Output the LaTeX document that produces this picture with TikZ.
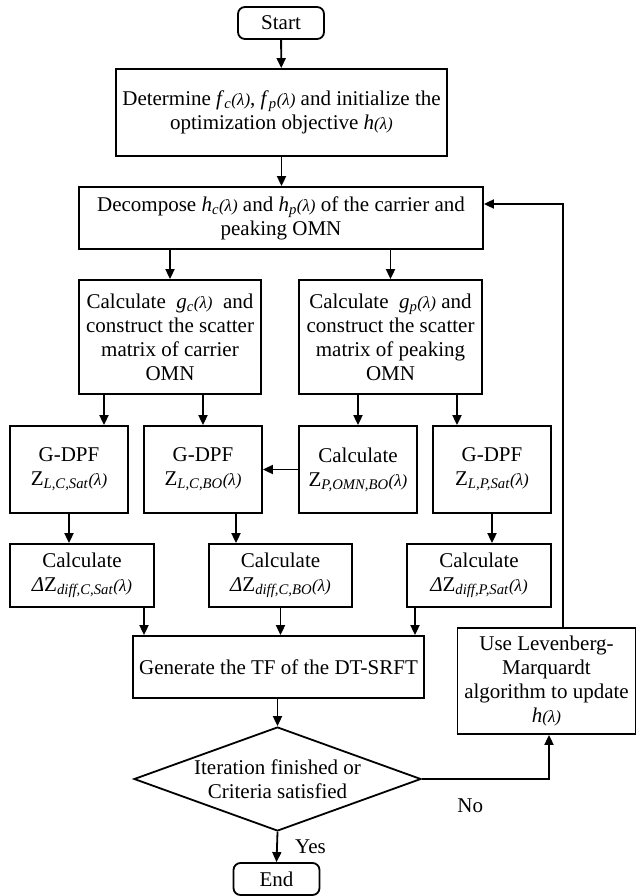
\documentclass[tikz,border=0pt]{standalone}
\usepackage{fontspec}
\setmainfont{Liberation Serif}
\usetikzlibrary{shapes.geometric}
\usetikzlibrary{arrows.meta}
\newcommand{\lam}{{\fontsize{17}{17}\selectfont\itshape(λ)}}
\newcommand{\isub}[2]{\textit{#1}\textsubscript{\textit{#2}}\lam}
\newcommand{\zsub}[1]{Z\textsubscript{\textit{#1}}\lam}
\newcommand{\dzsub}[1]{\textit{Δ}Z\textsubscript{\textit{#1}}\lam}
\tikzset{
  txt/.style={font=\fontsize{21}{24}\selectfont},
  box/.style={txt, draw, line width=1.8pt, align=center, inner sep=2pt},
  term/.style={box, rounded corners=7pt, minimum width=86pt, minimum height=32pt},
  cond/.style={box, diamond, shape aspect=2.76, inner sep=-9pt, minimum width=287pt, minimum height=104pt},
  arr/.style={line width=1.8pt, -{Triangle[length=10pt,width=9pt]}}
}

\begin{document}
\begin{tikzpicture}[x=1pt,y=-1pt]
        \useasboundingbox (0,0) rectangle (637,896);
        % top
        \node[term] (start) at (281,23) {Start};
        \node[box, minimum width=331pt, minimum height=87pt] (init) at (281.5,112.5)
                {Determine \isub{f}{c}, \isub{f}{p} and initialize the\\optimization objective \textit{h}\lam};
        \node[box, minimum width=404pt, minimum height=62pt] (dec) at (281,218)
                {Decompose \isub{h}{c} and \isub{h}{p} of the carrier and\\peaking OMN};
        % row1
        \node[box, minimum width=182pt, minimum height=114pt] (gc) at (170,337)
                {Calculate~ \isub{g}{c}~ and\\construct the scatter\\matrix of carrier\\OMN};
        \node[box, minimum width=183pt, minimum height=114pt] (gp) at (390.5,337)
                {Calculate~ \isub{g}{p} and\\construct the scatter\\matrix of peaking\\OMN};
        % row2
        \node[box, minimum width=118pt, minimum height=87pt] (gdpfa) at (69,469.5) {G-DPF\\\zsub{L,C,Sat}};
        \node[box, minimum width=118pt, minimum height=87pt] (gdpfb) at (203,469.5) {G-DPF\\\zsub{L,C,BO}};
        \node[box, minimum width=118pt, minimum height=87pt] (calczp) at (358,469.5) {Calculate\\\zsub{P,OMN,BO}};
        \node[box, minimum width=118pt, minimum height=87pt] (gdpfc) at (492,469.5) {G-DPF\\\zsub{L,P,Sat}};
        % row3
        \node[box, minimum width=144pt, minimum height=63pt] (calca) at (82,575.5) {Calculate\\\dzsub{diff,C,Sat}};
        \node[box, minimum width=143pt, minimum height=63pt] (calcb) at (280.5,575.5) {Calculate\\\dzsub{diff,C,BO}};
        \node[box, minimum width=144pt, minimum height=63pt] (calcc) at (479,575.5) {Calculate\\\dzsub{diff,P,Sat}};
        % bottom
        \node[box, minimum width=291pt, minimum height=62pt] (gen) at (278.5,667) {Generate the TF of the DT-SRFT};
        \node[cond] (check) at (277.5,779) {Iteration finished or\\Criteria satisfied};
        \node[term] (end) at (276.5,879) {End};
        \node[box, minimum width=178pt, minimum height=106pt] (upd) at (546.5,681)
                {Use Levenberg-\\Marquardt\\algorithm to update\\\textit{h}\lam};
        % arrows
        \draw[arr] (start) -- (init);
        \draw[arr] (init) -- (init.south |- dec.north);
        \draw[arr] (dec.south -| gc.north) -- (gc.north);
        \draw[arr] (dec.south -| gp.north) -- (gp.north);
        \draw[arr] ([xshift=35pt]gdpfa.north |- gc.south) -- ([xshift=35pt]gdpfa.north);
        \draw[arr] (gc.south -| gdpfb.north) -- (gdpfb.north);
        \draw[arr] (gp.south -| calczp.north) -- (calczp.north);
        \draw[arr] ([xshift=-35pt]gdpfc.north |- gp.south) -- ([xshift=-35pt]gdpfc.north);
        \draw[arr] (calczp.west) -- (gdpfb.east);
        \draw[arr] (gdpfa.south) -- (gdpfa.south |- calca.north);
        \draw[arr] ([xshift=33pt]gdpfb.south) -- ([xshift=33pt]gdpfb.south |- calcb.north);
        \draw[arr] (gdpfc.south) -- (gdpfc.south |- calcc.north);
        \draw[arr] ([xshift=62pt]calca.south) -- ([xshift=62pt]calca.south |- gen.north);
        \draw[arr] (calcb.south) -- (calcb.south |- gen.north);
        \draw[arr] ([xshift=-64pt]calcc.south) -- ([xshift=-64pt]calcc.south |- gen.north);
        \draw[arr] (gen.south -| check.north) -- (check.north);
        \draw[arr] (check.south) -- node[txt, right=14pt] {Yes} (end.north);
        \draw[arr] (check.east) -| node[txt, pos=0.19, below=16pt] {No} ([xshift=2.5pt]upd.south);
        \draw[arr] ([xshift=16.5pt]upd.north) |- ([yshift=14pt]dec.east);
\end{tikzpicture}
\end{document}
